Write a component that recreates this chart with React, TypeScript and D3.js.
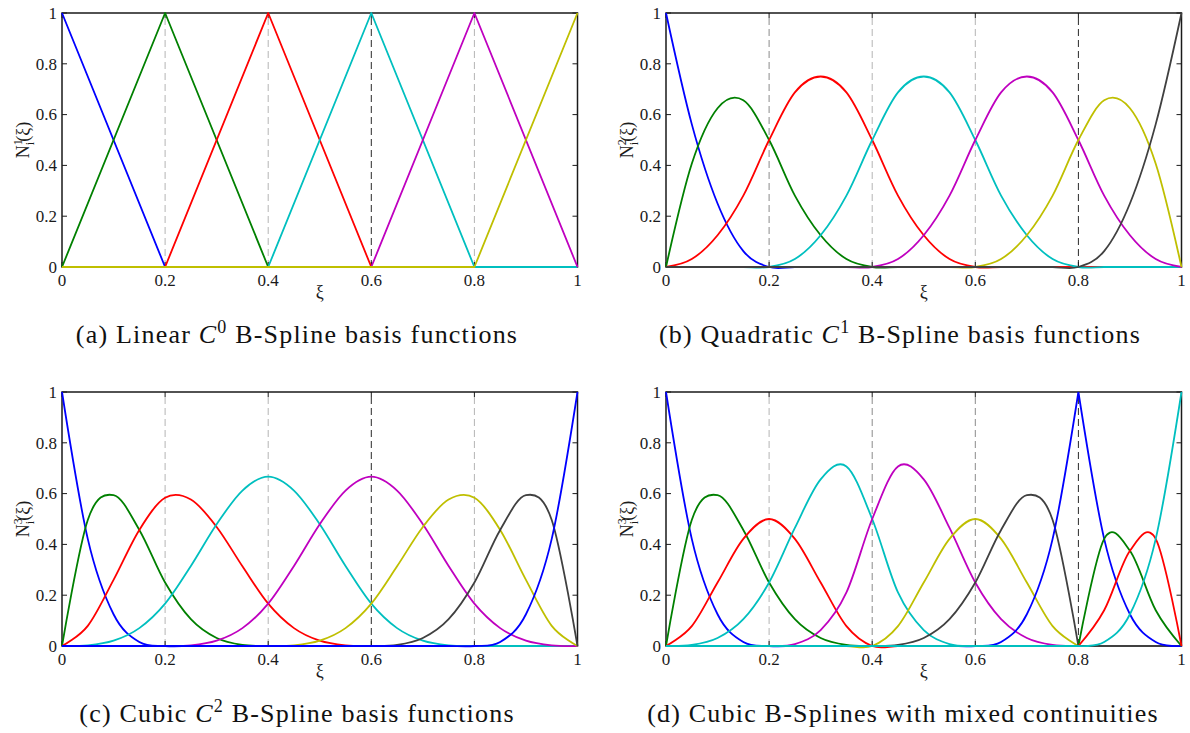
import * as d3 from "d3";

const XI = [0, 0.05, 0.1, 0.15, 0.2, 0.25, 0.3, 0.35, 0.4, 0.45, 0.5, 0.55, 0.6, 0.65, 0.7, 0.75, 0.8, 0.85, 0.9, 0.95, 1];
const XI_LINEAR = [0, 0.2, 0.4, 0.6, 0.8, 1];

const KNOT_LINES = [0.2, 0.4, 0.6, 0.8];
const TICKS = [0, 0.2, 0.4, 0.6, 0.8, 1];
const TICK_LABELS = ["0", "0.2", "0.4", "0.6", "0.8", "1"];

// (a) linear C0
const LINEAR = [
  [1, 0, 0, 0, 0, 0],
  [0, 1, 0, 0, 0, 0],
  [0, 0, 1, 0, 0, 0],
  [0, 0, 0, 1, 0, 0],
  [0, 0, 0, 0, 1, 0],
  [0, 0, 0, 0, 0, 1],
];

// (b) quadratic C1
const QUADRATIC = [
  [1, 0.5625, 0.25, 0.0625, 0, 0, 0, 0, 0, 0, 0, 0, 0, 0, 0, 0, 0, 0, 0, 0, 0],
  [0, 0.40625, 0.625, 0.65625, 0.5, 0.28125, 0.125, 0.03125, 0, 0, 0, 0, 0, 0, 0, 0, 0, 0, 0, 0, 0],
  [0, 0.03125, 0.125, 0.28125, 0.5, 0.6875, 0.75, 0.6875, 0.5, 0.28125, 0.125, 0.03125, 0, 0, 0, 0, 0, 0, 0, 0, 0],
  [0, 0, 0, 0, 0, 0.03125, 0.125, 0.28125, 0.5, 0.6875, 0.75, 0.6875, 0.5, 0.28125, 0.125, 0.03125, 0, 0, 0, 0, 0],
  [0, 0, 0, 0, 0, 0, 0, 0, 0, 0.03125, 0.125, 0.28125, 0.5, 0.6875, 0.75, 0.6875, 0.5, 0.28125, 0.125, 0.03125, 0],
  [0, 0, 0, 0, 0, 0, 0, 0, 0, 0, 0, 0, 0, 0.03125, 0.125, 0.28125, 0.5, 0.65625, 0.625, 0.40625, 0],
  [0, 0, 0, 0, 0, 0, 0, 0, 0, 0, 0, 0, 0, 0, 0, 0, 0, 0.0625, 0.25, 0.5625, 1],
];

// (c) cubic C2
const CUBIC = [
  [1, 0.4219, 0.125, 0.0156, 0, 0, 0, 0, 0, 0, 0, 0, 0, 0, 0, 0, 0, 0, 0, 0, 0],
  [0, 0.4961, 0.5938, 0.457, 0.25, 0.1055, 0.0313, 0.0039, 0, 0, 0, 0, 0, 0, 0, 0, 0, 0, 0, 0, 0],
  [0, 0.0794, 0.2604, 0.457, 0.5833, 0.5768, 0.4688, 0.3138, 0.1667, 0.0703, 0.0208, 0.0026, 0, 0, 0, 0, 0, 0, 0, 0, 0],
  [0, 0.0026, 0.0208, 0.0703, 0.1667, 0.3151, 0.4792, 0.612, 0.6667, 0.612, 0.4792, 0.3151, 0.1667, 0.0703, 0.0208, 0.0026, 0, 0, 0, 0, 0],
  [0, 0, 0, 0, 0, 0.0026, 0.0208, 0.0703, 0.1667, 0.3151, 0.4792, 0.612, 0.6667, 0.612, 0.4792, 0.3151, 0.1667, 0.0703, 0.0208, 0.0026, 0],
  [0, 0, 0, 0, 0, 0, 0, 0, 0, 0.0026, 0.0208, 0.0703, 0.1667, 0.3138, 0.4688, 0.5768, 0.5833, 0.457, 0.2604, 0.0794, 0],
  [0, 0, 0, 0, 0, 0, 0, 0, 0, 0, 0, 0, 0, 0.0039, 0.0313, 0.1055, 0.25, 0.457, 0.5938, 0.4961, 0],
  [0, 0, 0, 0, 0, 0, 0, 0, 0, 0, 0, 0, 0, 0, 0, 0, 0, 0.0156, 0.125, 0.4219, 1],
];

// (d) cubic, mixed continuities (double knot at 0.4, triple at 0.8)
const MIXED = [
  [1, 0.4219, 0.125, 0.0156, 0, 0, 0, 0, 0, 0, 0, 0, 0, 0, 0, 0, 0, 0, 0, 0, 0],
  [0, 0.4961, 0.5938, 0.457, 0.25, 0.1055, 0.0313, 0.0039, 0, 0, 0, 0, 0, 0, 0, 0, 0, 0, 0, 0, 0],
  [0, 0.0781, 0.25, 0.4219, 0.5, 0.4219, 0.25, 0.0781, 0, 0, 0, 0, 0, 0, 0, 0, 0, 0, 0, 0, 0],
  [0, 0.0039, 0.0313, 0.1055, 0.25, 0.4648, 0.6563, 0.707, 0.5, 0.2109, 0.0625, 0.0078, 0, 0, 0, 0, 0, 0, 0, 0, 0],
  [0, 0, 0, 0, 0, 0.0078, 0.0625, 0.2109, 0.5, 0.707, 0.6563, 0.4648, 0.25, 0.1055, 0.0313, 0.0039, 0, 0, 0, 0, 0],
  [0, 0, 0, 0, 0, 0, 0, 0, 0, 0.0781, 0.25, 0.4219, 0.5, 0.4219, 0.25, 0.0781, 0, 0, 0, 0, 0],
  [0, 0, 0, 0, 0, 0, 0, 0, 0, 0.0039, 0.0313, 0.1055, 0.25, 0.457, 0.5938, 0.4961, 0, 0, 0, 0, 0],
  [0, 0, 0, 0, 0, 0, 0, 0, 0, 0, 0, 0, 0, 0.0156, 0.125, 0.4219, 1, 0.4219, 0.125, 0.0156, 0],
  [0, 0, 0, 0, 0, 0, 0, 0, 0, 0, 0, 0, 0, 0, 0, 0, 0, 0.4219, 0.375, 0.1406, 0],
  [0, 0, 0, 0, 0, 0, 0, 0, 0, 0, 0, 0, 0, 0, 0, 0, 0, 0.1406, 0.375, 0.4219, 0],
  [0, 0, 0, 0, 0, 0, 0, 0, 0, 0, 0, 0, 0, 0, 0, 0, 0, 0.0156, 0.125, 0.4219, 1],
];

// matlab's old colour order
const COLORS = ["#0000ff", "#008000", "#ff0000", "#00bfbf", "#bf00bf", "#bfbf00", "#404040"];
const LIGHT = "#b4b4b4";
const MID = "#8a8a8a";
const DARK = "#2a2a2a";

const AX_W = 515.5;
const AX_H = 254;
const FONT = "serif";
const INK = "#1a1a1a";

type PanelCfg = {
  left: number;
  top: number;
  xs: number[];
  series: number[][];
  smooth: boolean;
  breaks: number[];
  degree: string;
  shades: string[];
  caption: string[];
  capX: number;
  capY: number;
};

const PANELS: PanelCfg[] = [
  {
    left: 62, top: 13, xs: XI_LINEAR, series: LINEAR, smooth: false, breaks: [], degree: "1",
    shades: [LIGHT, LIGHT, DARK, LIGHT],
    caption: ["(a) Linear ", "C", "0", " B-Spline basis functions"], capX: 297, capY: 343,
  },
  {
    left: 666, top: 13, xs: XI, series: QUADRATIC, smooth: true, breaks: [], degree: "2",
    shades: [MID, LIGHT, LIGHT, DARK],
    caption: ["(b) Quadratic ", "C", "1", " B-Spline basis functions"], capX: 900, capY: 343,
  },
  {
    left: 62, top: 392, xs: XI, series: CUBIC, smooth: true, breaks: [], degree: "3",
    shades: [LIGHT, LIGHT, DARK, LIGHT],
    caption: ["(c) Cubic ", "C", "2", " B-Spline basis functions"], capX: 297, capY: 722,
  },
  {
    left: 666, top: 392, xs: XI, series: MIXED, smooth: true, breaks: [0.8], degree: "3",
    shades: [LIGHT, MID, MID, DARK],
    caption: ["(d) Cubic B-Splines with mixed continuities"], capX: 903, capY: 722,
  },
];

function Panel({ cfg }: { cfg: PanelCfg }) {
  const x = d3.scaleLinear().domain([0, 1]).range([cfg.left, cfg.left + AX_W]);
  const y = d3.scaleLinear().domain([0, 1]).range([cfg.top + AX_H, cfg.top]);

  const line = d3
    .line<[number, number]>()
    .x((d) => x(d[0]))
    .y((d) => y(d[1]))
    .curve(cfg.smooth ? d3.curveCatmullRom.alpha(0) : d3.curveLinear);

  // C0 knots: draw each side separately so the kink stays sharp
  const cut = cfg.breaks.map((b) => cfg.xs.findIndex((v) => Math.abs(v - b) < 1e-9));
  const bounds = [0, ...cut, cfg.xs.length - 1];

  const paths = cfg.series.map((vals) => {
    const pts = vals.map((v, i) => [cfg.xs[i], v] as [number, number]);
    let d = "";
    for (let s = 0; s < bounds.length - 1; s++) {
      d += line(pts.slice(bounds[s], bounds[s + 1] + 1)) || "";
    }
    return d;
  });

  const x0 = x(0), x1 = x(1), y0 = y(0), y1 = y(1);
  const tk = 5;

  return (
    <g>
      {/* knot lines */}
      {KNOT_LINES.map((k, i) => (
        <line key={"k" + i} x1={x(k)} x2={x(k)} y1={y0} y2={y1}
          stroke={cfg.shades[i]} strokeWidth={1} strokeDasharray="7,4" />
      ))}

      {/* box + ticks */}
      <rect x={x0} y={y1} width={x1 - x0} height={y0 - y1} fill="none" stroke={INK} strokeWidth={1.5} />
      {TICKS.map((t, i) => (
        <g key={"t" + i} stroke={INK} strokeWidth={1}>
          <line x1={x(t)} x2={x(t)} y1={y0} y2={y0 - tk} />
          <line x1={x(t)} x2={x(t)} y1={y1} y2={y1 + tk} />
          <line x1={x0} x2={x0 + tk} y1={y(t)} y2={y(t)} />
          <line x1={x1} x2={x1 - tk} y1={y(t)} y2={y(t)} />
        </g>
      ))}

      {/* curves */}
      {paths.map((d, i) => (
        <path key={"c" + i} d={d} fill="none" stroke={COLORS[i % COLORS.length]}
          strokeWidth={1.8} strokeLinejoin="round" />
      ))}

      {/* tick labels */}
      <g style={{ fontFamily: FONT }} fontSize={17} fill={INK}>
        {TICKS.map((t, i) => (
          <text key={"xl" + i} x={x(t)} y={y0 + 19} textAnchor="middle">{TICK_LABELS[i]}</text>
        ))}
        {TICKS.map((t, i) => (
          <text key={"yl" + i} x={x0 - 5} y={y(t)} dy="0.34em" textAnchor="end">{TICK_LABELS[i]}</text>
        ))}
      </g>

      {/* axis labels */}
      <text x={(x0 + x1) / 2} y={y0 + 31} textAnchor="middle" style={{ fontFamily: FONT }} fontSize={18} fill={INK}>ξ</text>
      <g transform={`translate(${x0 - 33.5},${(y0 + y1) / 2}) rotate(-90)`}>
        <text x={0} y={0} textAnchor="middle" style={{ fontFamily: FONT }} fontSize={18} fill={INK}>
          N<tspan fontSize={12} dy={-7}>{cfg.degree}</tspan>
          <tspan fontSize={12} dx={-6} dy={12}>i</tspan>
          <tspan dy={-5}>(ξ)</tspan>
        </text>
      </g>

      {/* caption */}
      <text x={cfg.capX} y={cfg.capY} textAnchor="middle" style={{ fontFamily: FONT }} fontSize={26}
        letterSpacing={1.2} fill="#111">
        {cfg.caption[0]}
        {cfg.caption.length > 1 && (
          <>
            <tspan fontStyle="italic">{cfg.caption[1]}</tspan>
            <tspan fontSize={18} dy={-10}>{cfg.caption[2]}</tspan>
            <tspan dy={10}>{cfg.caption[3]}</tspan>
          </>
        )}
      </text>
    </g>
  );
}

export default function App() {
  return (
    <svg width={1190} height={733} style={{ position: "absolute", left: 0, top: 0, background: "#fff" }}>
      <rect width={1190} height={733} fill="#fff" />
      {PANELS.map((p, i) => (
        <Panel key={i} cfg={p} />
      ))}
    </svg>
  );
}
